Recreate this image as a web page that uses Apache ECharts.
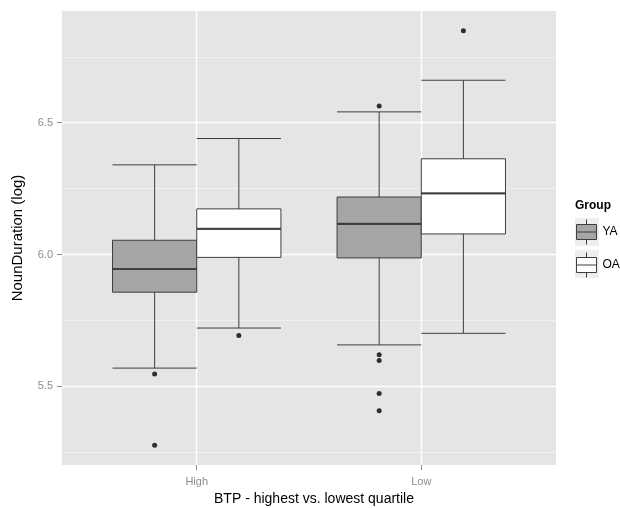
<!DOCTYPE html>
<html><head><meta charset="utf-8">
<script src="https://cdn.jsdelivr.net/npm/echarts@6/dist/echarts.min.js"></script>
<style>html,body{margin:0;padding:0;background:#fff}#c{width:620px;height:508px}</style>
</head><body><div id="c"></div>
<script>
// ---- data ----
const categories = ['High', 'Low'];
const groups = ['YA', 'OA'];
// [min(whisker), Q1, median, Q3, max(whisker)] per category
const yaBox = [[5.569, 5.857, 5.945, 6.054, 6.340], [5.657, 5.987, 6.116, 6.218, 6.541]];
const oaBox = [[5.721, 5.989, 6.097, 6.173, 6.440], [5.701, 6.078, 6.232, 6.363, 6.661]];
// [category index, value]
const yaOutliers = [[0, 5.547], [0, 5.276], [1, 6.563], [1, 5.620], [1, 5.598], [1, 5.473], [1, 5.407]];
const oaOutliers = [[0, 5.693], [1, 6.849]];
const yMajor = [5.5, 6.0, 6.5];
const yMinor = [5.25, 5.75, 6.25, 6.75];

// ---- layout / style ----
const FONT = '"Liberation Sans", Arial, sans-serif';
const X_MIN = 0.4, X_MAX = 2.6, DODGE = 0.1875;
const Y_MIN = 5.2014, Y_MAX = 6.9237;
const GRID = { left: 62, top: 11, width: 494, height: 454 };
const unitPx = GRID.width / (X_MAX - X_MIN);
const boxPx = 2 * DODGE * unitPx;
const LINE = '#3d3d3d';
const FILLS = ['#a5a5a5', '#ffffff'];
const TICKCOL = '#8c8c8c';

const pos = (ci, gi) => ci + 1 + (gi === 0 ? -DODGE : DODGE);
const boxData = (arr, gi) => arr.map((b, ci) => [pos(ci, gi)].concat(b));
const outData = (arr, gi) => arr.map(o => [pos(o[0], gi), o[1]]);
const medData = (arr, gi) => arr.map((b, ci) => [pos(ci, gi), b[2]]);

const major = { color: '#ffffff', width: 1.4, type: 'solid' };
const minor = { color: '#f3f3f3', width: 0.8, type: 'solid' };
const gridLines = []
  .concat(yMinor.map(v => ({ yAxis: v, lineStyle: minor })))
  .concat(yMajor.map(v => ({ yAxis: v, lineStyle: major })))
  .concat(categories.map((c, i) => ({ xAxis: i + 1, lineStyle: major })));

const ICON = 'path://M11,0L11,5M1,5L21,5L21,20L1,20ZM1,12.5L21,12.5M11,20L11,25';
const boxes = [yaBox, oaBox];
const outs = [yaOutliers, oaOutliers];

const series = [];
groups.forEach((g, gi) => {
  const s = {
    type: 'boxplot', name: g, xAxisIndex: gi, yAxisIndex: 0,
    data: boxData(boxes[gi], gi),
    boxWidth: [boxPx, boxPx],
    itemStyle: { color: FILLS[gi], borderColor: LINE, borderWidth: 1 },
    emphasis: { disabled: true }, z: 3, silent: true
  };
  if (gi === 0) {
    s.markLine = { silent: true, symbol: ['none', 'none'], z: 1, animation: false,
      label: { show: false }, emphasis: { disabled: true }, lineStyle: major, data: gridLines };
  }
  series.push(s);
  series.push({
    type: 'scatter', name: g + ' median', xAxisIndex: gi, yAxisIndex: 0,
    data: medData(boxes[gi], gi), symbol: 'rect', symbolSize: [boxPx, 2.2],
    itemStyle: { color: '#333333' }, z: 4, silent: true
  });
  series.push({
    type: 'scatter', name: g + ' outliers', xAxisIndex: gi, yAxisIndex: 0,
    data: outData(outs[gi], gi), symbol: 'circle', symbolSize: 5,
    itemStyle: { color: '#000000' }, z: 5, silent: true
  });
});

const chart = echarts.init(document.getElementById('c'), null, { renderer: 'canvas' });
chart.setOption({
  animation: false,
  backgroundColor: '#ffffff',
  textStyle: { fontFamily: FONT },
  title: { text: 'Group', left: 575, top: 200, padding: 0,
    textStyle: { fontSize: 12, fontWeight: 'bold', color: '#000', fontFamily: FONT } },
  grid: [{ left: GRID.left, top: GRID.top, width: GRID.width, height: GRID.height,
    containLabel: false, outerBoundsMode: 'none',
    show: true, backgroundColor: '#e5e5e5', borderWidth: 0 }],
  xAxis: [
    { type: 'value', gridIndex: 0, min: X_MIN, max: X_MAX,
      splitLine: { show: false }, axisLine: { show: false },
      axisTick: { show: true, customValues: [1, 2], length: 5, lineStyle: { color: TICKCOL } },
      axisLabel: { customValues: [1, 2], formatter: v => categories[Math.round(v) - 1],
        color: TICKCOL, fontSize: 11, margin: 11, fontFamily: FONT },
      name: 'BTP - highest vs. lowest quartile', nameLocation: 'middle', nameGap: 27,
      nameTextStyle: { color: '#000', fontSize: 14, fontFamily: FONT, padding: [0, 0, 0, 10] } },
    { type: 'value', gridIndex: 0, min: X_MIN, max: X_MAX, show: false,
      splitLine: { show: false } }
  ],
  yAxis: [
    { type: 'value', gridIndex: 0, min: Y_MIN, max: Y_MAX,
      splitLine: { show: false }, axisLine: { show: false },
      axisTick: { show: true, customValues: yMajor, length: 5, lineStyle: { color: TICKCOL } },
      axisLabel: { customValues: yMajor, formatter: v => v.toFixed(1),
        color: TICKCOL, fontSize: 11, margin: 9, fontFamily: FONT },
      name: 'NounDuration (log)', nameLocation: 'middle', nameGap: 37, nameRotate: 90,
      nameTextStyle: { color: '#000', fontSize: 15, fontFamily: FONT } }
  ],
  legend: {
    orient: 'vertical', left: 576, top: 219, padding: 0,
    itemWidth: 22, itemHeight: 25, itemGap: 7, selectedMode: false,
    textStyle: { fontSize: 12, color: '#000', fontFamily: FONT },
    data: groups.map((g, gi) => ({ name: g, icon: ICON,
      itemStyle: { color: FILLS[gi], borderColor: LINE, borderWidth: 1 } }))
  },
  graphic: groups.map((g, gi) => ({
    type: 'rect', left: 575, top: 218 + gi * 32, z: -1,
    shape: { width: 24, height: 28 }, style: { fill: '#ededed' }
  })),
  series: series
});
</script></body></html>
